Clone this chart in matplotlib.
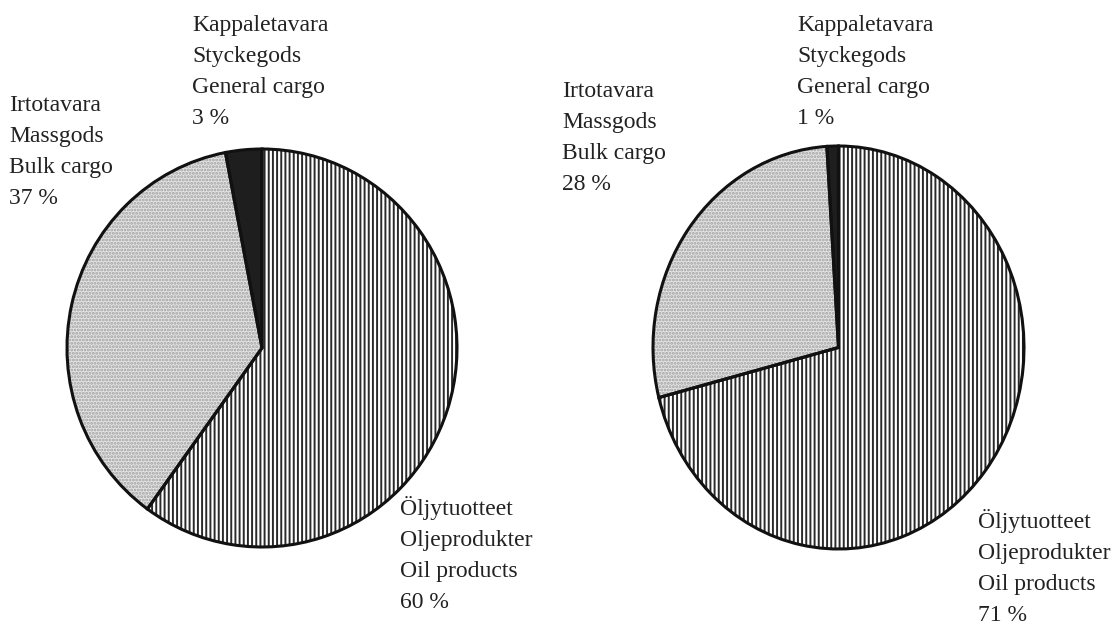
import matplotlib.pyplot as plt

plt.rcParams['font.family'] = ['Liberation Serif', 'DejaVu Serif']
plt.rcParams['hatch.linewidth'] = 1.4

categories = ['Oil products', 'Bulk cargo', 'General cargo']
shares_left = [60, 37, 3]
shares_right = [71, 28, 1]

label_oil = 'Öljytuotteet\nOljeprodukter\nOil products\n{} %'
label_bulk = 'Irtotavara\nMassgods\nBulk cargo\n{} %'
label_gen = 'Kappaletavara\nStyckegods\nGeneral cargo\n{} %'

faces = ['white', '#e4e4e4', '#1e1e1e']
hatches = ['||||', '.....', None]
hatch_colors = ['#2a2a2a', '#a0a0a0', '#1e1e1e']

W, H = 1115, 626
fig = plt.figure(figsize=(W / 100, H / 100), dpi=100)


def draw_pie(box, values):
    # box in pixels: left, top, right, bottom
    l, t, r, b = box
    ax = fig.add_axes([l / W, 1 - b / H, (r - l) / W, (b - t) / H])
    # fill
    ax.pie(values, colors=faces, startangle=90, counterclock=False,
           wedgeprops=dict(linewidth=0))
    # hatches
    wedges, _ = ax.pie(values, startangle=90, counterclock=False,
                       wedgeprops=dict(linewidth=0, fill=False))
    for w, h, c in zip(wedges, hatches, hatch_colors):
        w.set_edgecolor(c)
        if h:
            w.set_hatch(h)
    # outlines
    ax.pie(values, startangle=90, counterclock=False,
           wedgeprops=dict(linewidth=2.2, edgecolor='#111111', fill=False))
    ax.set_xlim(-1.0, 1.0)
    ax.set_ylim(-1.0, 1.0)
    ax.set_aspect('auto')
    ax.set_position([l / W, 1 - b / H, (r - l) / W, (b - t) / H])
    return ax


draw_pie((67, 149, 457, 547), shares_left)
draw_pie((653, 146, 1024, 549), shares_right)

txt = dict(fontsize=17, color='#222222', va='top', ha='left', linespacing=1.62)


def put(x, y, s):
    fig.text(x / W, 1 - y / H, s, **txt)


put(192, 15, label_gen.format(shares_left[2]))
put(9, 95, label_bulk.format(shares_left[1]))
put(400, 496, label_oil.format(shares_left[0]))

put(797, 15, label_gen.format(shares_right[2]))
put(562, 81, label_bulk.format(shares_right[1]))
put(978, 509, label_oil.format(shares_right[0]))

fig.savefig('out.png', dpi=100)
